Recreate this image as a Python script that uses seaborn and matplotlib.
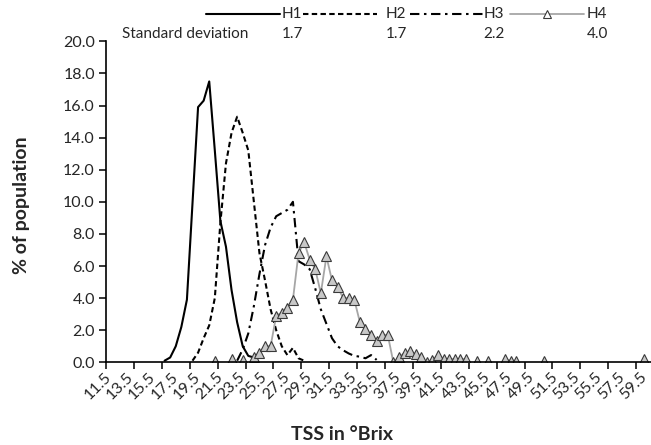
import numpy as np
import pandas as pd
import matplotlib
matplotlib.use("Agg")
import matplotlib.pyplot as plt
import seaborn as sns
from matplotlib.lines import Line2D

# ---------------- data ----------------
tss_h1 = [16.5, 17.0, 17.5, 18.0, 18.5, 19.0, 19.5, 20.0, 20.5, 21.0, 21.5, 22.0,
          22.5, 23.0, 23.5, 24.0, 24.5]
h1 = [0.1, 0.3, 1.0, 2.2, 3.9, 9.9, 15.9, 16.3, 17.5, 13.2, 8.8, 7.2,
      4.5, 2.5, 1.0, 0.4, 0.3]

tss_h2 = [19.0, 19.5, 20.0, 20.5, 21.0, 21.5, 22.0, 22.5, 23.0, 23.5, 24.0, 24.5,
          25.0, 25.5, 26.0, 26.5, 27.0, 27.5, 28.0, 28.5, 29.0]
h2 = [0.1, 0.6, 1.5, 2.3, 4.0, 8.7, 12.4, 14.3, 15.3, 14.3, 13.2, 10.0,
      6.8, 5.1, 3.3, 2.0, 1.0, 0.45, 0.9, 0.25, 0.1]

tss_h3 = [23.0, 23.5, 24.0, 24.5, 25.0, 25.5, 26.0, 26.5, 27.0, 27.5, 28.0, 28.5,
          29.0, 29.5, 30.0, 30.5, 31.0, 31.5, 32.0, 32.5, 33.0, 33.5, 34.0, 34.5,
          35.0, 35.5]
h3 = [0.1, 0.8, 1.8, 3.5, 5.5, 7.3, 8.4, 9.1, 9.3, 9.5, 10.0, 6.3,
      6.1, 5.8, 4.6, 3.3, 2.4, 1.5, 1.0, 0.75, 0.55, 0.4, 0.35, 0.25,
      0.45, 0.15]

tss_h4 = [21.0, 22.5, 23.5, 24.5, 25.0, 25.5, 26.0, 26.5, 27.0, 27.5, 28.0, 28.5,
          29.0, 29.5, 30.0, 30.5, 31.0, 31.5, 32.0, 32.5, 33.0, 33.5, 34.0, 34.5,
          35.0, 35.5, 36.0, 36.5, 37.0, 37.5, 38.0, 38.5, 39.0, 39.5, 40.0, 40.5,
          41.0, 41.5, 42.0, 42.5, 43.0, 43.5, 44.5, 45.5, 47.0, 47.5, 48.0, 50.5,
          59.5]
h4 = [0.1, 0.2, 0.15, 0.35, 0.6, 1.0, 1.0, 2.9, 3.1, 3.4, 3.9, 6.8,
      7.5, 6.4, 5.8, 4.3, 6.6, 5.1, 4.7, 4.0, 4.0, 3.9, 2.5, 2.1,
      1.7, 1.3, 1.7, 1.7, 0.0, 0.3, 0.6, 0.7, 0.5, 0.3, 0.0, 0.15,
      0.45, 0.2, 0.2, 0.2, 0.2, 0.2, 0.1, 0.1, 0.2, 0.1, 0.1, 0.1,
      0.2]

series_names = ["H1", "H2", "H3", "H4"]
std_devs = [1.7, 1.7, 2.2, 4.0]

x_tick_values = np.arange(11.5, 59.6, 2.0)
x_tick_labels = [f"{v:.1f}" for v in x_tick_values]
y_ticks = list(range(0, 21, 2))

# H4 has empty cells: consecutive categories form one segment, gaps break the line
df4 = pd.DataFrame({"tss": tss_h4, "pct": h4})
df4["seg"] = (df4["tss"].diff().fillna(0.5).round(2) > 0.5).cumsum()

# ---------------- style ----------------
sns.set_theme(style="white")
plt.rcParams["font.family"] = ["Lato", "DejaVu Sans"]
TXT = "#262626"

fig = plt.figure(figsize=(6.51, 4.45), dpi=100)
W, H = 651, 445
left, right, top, bottom = 106, 664, 41.3, 362.3
ax = fig.add_axes([left / W, 1 - bottom / H, (right - left) / W, (bottom - top) / H])

sns.lineplot(x=tss_h1, y=h1, ax=ax, color="black", linewidth=1.5)
sns.lineplot(x=tss_h2, y=h2, ax=ax, color="black", linewidth=1.5,
             linestyle=(0, (2.6, 1.6)))
sns.lineplot(x=tss_h3, y=h3, ax=ax, color="black", linewidth=1.5,
             linestyle=(0, (4.5, 2.2, 1.2, 2.2)))
sns.lineplot(data=df4, x="tss", y="pct", units="seg", estimator=None, ax=ax,
             color="#a6a6a6", linewidth=1.3, marker="^", markersize=6.5,
             mfc="#c8c8c8", mec="#3a3a3a", mew=0.8)

ax.set_xlim(11.25, 61.25)
ax.set_ylim(0, 20)

ax.set_xticks(x_tick_values)
ax.set_xticklabels(x_tick_labels, rotation=45, ha="right", va="center",
                   rotation_mode="anchor", fontsize=11.5, color=TXT)
ax.set_xticks(np.arange(11.25, 61.3, 2.5), minor=True)
ax.tick_params(axis="x", which="major", length=0, pad=9)
ax.tick_params(axis="x", which="minor", length=5, width=1.1, direction="out",
               color="black", bottom=True)

ax.set_yticks(y_ticks)
ax.set_yticklabels([f"{v:.1f}" for v in y_ticks], fontsize=11.5, color=TXT)
ax.tick_params(axis="y", length=5, width=1.1, direction="out", color="black",
               left=True, pad=3)

for s in ["top", "right"]:
    ax.spines[s].set_visible(False)
for s in ["left", "bottom"]:
    ax.spines[s].set_color("black")
    ax.spines[s].set_linewidth(1.2)

ax.set_xlabel("TSS in °Brix", fontsize=14, fontweight="bold", color=TXT,
              va="center")
ax.xaxis.set_label_coords((342 - left) / (right - left), -(434 - bottom) / (bottom - top))
ax.set_ylabel("% of population", fontsize=14, fontweight="bold", color=TXT,
              va="center")
ax.yaxis.set_label_coords(-(106 - 22) / (right - left), 0.49)
ax.grid(False)

# ---------------- custom top legend ----------------
line_x0 = [206, 303, 410, 510]
line_len = 74
label_x = [282, 386, 484, 587]
row1_y = 1 - 14 / H
row2_y = 1 - 34 / H
styles = [dict(color="black", lw=1.5, ls="-"),
          dict(color="black", lw=1.5, ls=(0, (2.6, 1.6))),
          dict(color="black", lw=1.5, ls=(0, (4.5, 2.2, 1.2, 2.2))),
          dict(color="#a6a6a6", lw=1.3, ls="-")]
for i, name in enumerate(series_names):
    x0, x1 = line_x0[i] / W, (line_x0[i] + line_len) / W
    fig.add_artist(Line2D([x0, x1], [row1_y, row1_y], transform=fig.transFigure,
                          **styles[i]))
    if name == "H4":
        fig.add_artist(Line2D([(x0 + x1) / 2], [row1_y], transform=fig.transFigure,
                              marker="^", markersize=6, mfc="white", mec="#3a3a3a",
                              mew=0.8, ls="none"))
    fig.text(label_x[i] / W, row1_y, name, ha="left", va="center", fontsize=11,
             color=TXT)
    fig.text((label_x[i] + 21) / W, row2_y, f"{std_devs[i]:.1f}", ha="right",
             va="center", fontsize=11, color=TXT)
fig.text(122 / W, row2_y, "Standard deviation", ha="left", va="center",
         fontsize=11, color=TXT)

fig.savefig("out.png", dpi=100)
